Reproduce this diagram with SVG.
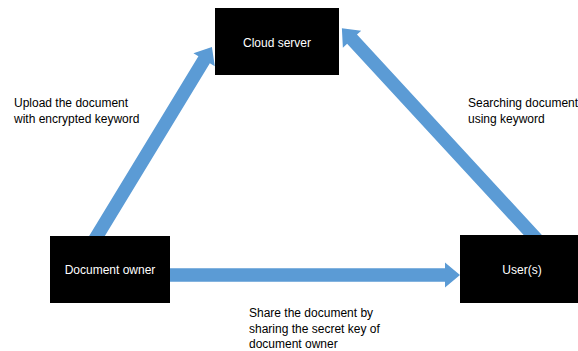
<svg xmlns="http://www.w3.org/2000/svg" width="578" height="351" viewBox="0 0 578 351">
<style>
.arrow{fill:#5B9BD5;}
.box{fill:#000000;}
.nl{font-family:"Liberation Sans",Arial,sans-serif;font-size:12px;fill:#ffffff;text-anchor:middle;}
.lbl{font-family:"Liberation Sans",Arial,sans-serif;font-size:12px;fill:#000000;}
</style>
<rect width="578" height="351" fill="#ffffff"/>
<g id="connectors">
<polygon class="arrow" transform="translate(91.5,245) rotate(-58.7)" points="0,-6.7 216.8,-6.7 216.8,-12.5 231.8,0 216.8,12.5 216.8,6.7 0,6.7"/>
<polygon class="arrow" transform="translate(542,245) rotate(-132.7)" points="0,-6.7 280.1,-6.7 280.1,-12.5 295.1,0 280.1,12.5 280.1,6.7 0,6.7"/>
<polygon class="arrow" points="165,268.3 445,268.3 445,262.5 460,275 445,287.5 445,281.7 165,281.7"/>
</g>
<g id="cloud-server">
<rect class="box" x="215" y="8" width="124" height="67"/>
<text class="nl" x="277" y="46.5">Cloud server</text>
</g>
<g id="document-owner">
<rect class="box" x="50" y="236" width="120" height="67"/>
<text class="nl" x="110" y="274">Document owner</text>
</g>
<g id="users">
<rect class="box" x="460" y="235" width="118" height="68"/>
<text class="nl" x="522" y="274">User(s)</text>
</g>
<g id="labels">
<text class="lbl" x="14" y="107">Upload the document</text>
<text class="lbl" x="14" y="123">with encrypted keyword</text>
<text class="lbl" x="468" y="107">Searching document</text>
<text class="lbl" x="468" y="123">using keyword</text>
<text class="lbl" x="249" y="317">Share the document by</text>
<text class="lbl" x="249" y="332.5">sharing the secret key of</text>
<text class="lbl" x="249" y="348">document owner</text>
</g>
</svg>
